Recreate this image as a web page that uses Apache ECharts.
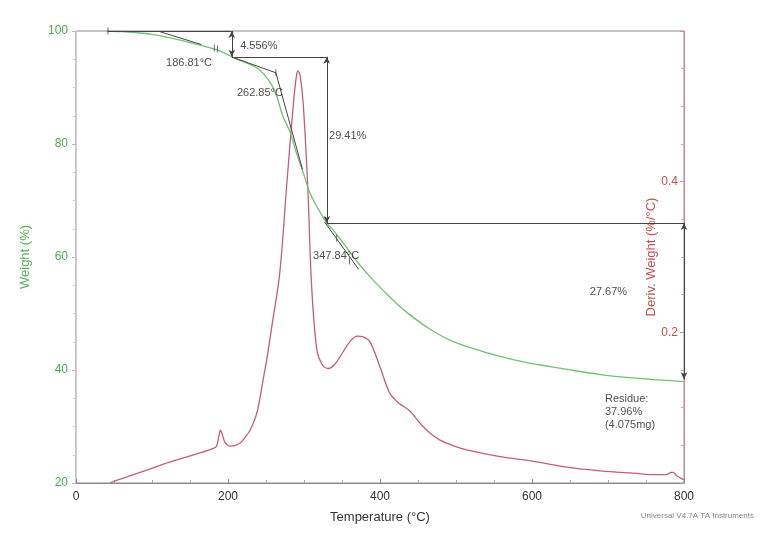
<!DOCTYPE html>
<html><head><meta charset="utf-8">
<script src="https://cdn.jsdelivr.net/npm/echarts@6/dist/echarts.min.js"></script>
<style>html,body{margin:0;padding:0;background:#fff}#c{width:766px;height:548px}</style>
</head><body><div id="c"></div>
<script>
// ---- TGA weight curve (Temperature °C, Weight %) ----
const weightT = [40,60,80,100,120,140,163,187,207,225,240,255,264,272,282,290,299,308,320,330,340,351,362,374,391,404,420,439,465,492,525,558,590,624,646,690,733,770,800];
const weightW = [100,99.9,99.7,99.4,98.9,98.3,97.5,96.6,95.3,94.3,93.3,91.0,88.5,85.0,82.0,78.4,74.9,71.3,68.2,66.0,64.5,62.6,60.6,58.5,55.9,54.1,52.0,49.8,47.3,45.3,43.7,42.4,41.4,40.6,40.1,39.2,38.6,38.2,37.96];
// ---- DTG derivative curve (Temperature °C, Deriv. Weight %/°C) ----
const derivT = [45,49,70,93,115,137,160,181,185,188,190,192,196,203,210,216,222,229,238,246,252,258,268,277,286,290,292,295,299,305,310,317,324,332,340,347,360,370,378,387,400,413,425,439,453,466,479,495,514,558,600,646,690,733,765,777,783,786,790,795,800];
const derivD = [0,0.002,0.009,0.017,0.025,0.032,0.039,0.046,0.049,0.062,0.070,0.066,0.054,0.049,0.050,0.053,0.060,0.070,0.093,0.136,0.17,0.21,0.278,0.392,0.503,0.54,0.547,0.54,0.503,0.392,0.262,0.176,0.157,0.152,0.157,0.167,0.187,0.195,0.194,0.187,0.154,0.119,0.106,0.096,0.079,0.066,0.057,0.050,0.044,0.035,0.029,0.021,0.016,0.013,0.011,0.011,0.014,0.014,0.010,0.007,0.004];
// ---- axes ----
const xTickLabels = [0,200,400,600,800];
const leftTickLabels = [20,40,60,80,100];
const rightTickLabels = [0.2,0.4];
// ---- step annotations (weight-loss steps) ----
const stepLevels = [100, 95.44, 66.03, 38.36];
const stepTemps = [42, 205, 330, 800];
// ---- tangent / onset segments [T1,W1,T2,W2] ----
const tangentSegs = [[110,99.9,165,97.6],[207,95.3,263,92.6],[263,92.6,298,75.5],[327,66.2,372,57.8]];
const tickMarks = [[42,100],[182,97.0],[186,96.8],[263,92.6],[343,63.3],[360,59.3]];
// ---- text annotations [T, W, text, align] ----
const notes = [
  [216, 97.35, '4.556%', 'left'],
  [179, 94.3, '186.81°C', 'right'],
  [242, 89.0, '262.85°C', 'center'],
  [333, 81.4, '29.41%', 'left'],
  [312, 60.2, '347.84°C', 'left'],
  [676, 53.8, '27.67%', 'left'],
  [696, 32.6, 'Residue:\n37.96%\n(4.075mg)', 'left']
];

const chart = echarts.init(document.getElementById('c'), null, {renderer:'canvas'});
const green = '#72c172', pink = '#c45d78', dark = '#444';
const FONT = 'Liberation Sans, Arial, sans-serif';

const hLines = [];
for (let i = 0; i < 3; i++) {
  hLines.push([{coord:[stepTemps[i], stepLevels[i]], symbol:'none'}, {coord:[stepTemps[i+1], stepLevels[i]], symbol:'none'}]);
}
const vArrows = [];
for (let i = 0; i < 3; i++) {
  vArrows.push([{coord:[stepTemps[i+1], stepLevels[i]]}, {coord:[stepTemps[i+1], stepLevels[i+1]]}]);
}
const tangents = tangentSegs.map(s => [{coord:[s[0],s[1]], symbol:'none'},{coord:[s[2],s[3]], symbol:'none'}]);

chart.setOption({
  animation: false,
  textStyle: {fontFamily: FONT},
  grid: {left: 76, right: 82, top: 31, bottom: 65, show: true, borderColor: '#8a8a8a', borderWidth: 1},
  xAxis: {
    type: 'value', min: 0, max: 800, interval: 200,
    name: 'Temperature (°C)', nameLocation: 'middle', nameGap: 28,
    nameTextStyle: {color: '#333', fontSize: 13, fontFamily: FONT},
    axisLine: {lineStyle: {color: '#8a8a8a'}},
    axisTick: {inside: true, length: 4, lineStyle: {color: '#8a8a8a'}},
    minorTick: {show: true, splitNumber: 4, length: 3, lineStyle: {color: '#aaa'}},
    splitLine: {show: false},
    axisLabel: {color: '#333', fontSize: 12, margin: 8, formatter: v => xTickLabels.includes(v) ? String(v) : ''}
  },
  yAxis: [{
    type: 'value', min: 20, max: 100, interval: 20, position: 'left',
    name: 'Weight (%)', nameLocation: 'middle', nameGap: 44,
    nameTextStyle: {color: '#55b055', fontSize: 13, fontFamily: FONT},
    axisLine: {show: true, lineStyle: {color: '#cfcfcf'}},
    axisTick: {show: true, length: 4, lineStyle: {color: '#bbb'}},
    minorTick: {show: true, splitNumber: 4, length: 3, lineStyle: {color: '#ccc'}},
    splitLine: {show: false},
    axisLabel: {color: '#4cab4c', fontSize: 12, margin: 8, formatter: v => leftTickLabels.includes(v) ? String(v) : ''}
  }, {
    type: 'value', min: 0, max: 0.6, interval: 0.2, position: 'right',
    name: 'Deriv. Weight (%/°C)', nameLocation: 'middle', nameGap: -39, nameRotate: 90,
    nameMoveOverlap: false,
    nameTextStyle: {color: '#c0504d', fontSize: 13, fontFamily: FONT},
    axisLine: {show: true, lineStyle: {color: '#d98a98'}},
    axisTick: {show: true, inside: true, length: 4, lineStyle: {color: '#d98a98'}},
    minorTick: {show: true, splitNumber: 4, length: 3, lineStyle: {color: '#e0a0ac'}},
    splitLine: {show: false},
    axisLabel: {inside: true, color: '#c0504d', fontSize: 12, margin: 6,
      formatter: v => rightTickLabels.some(r => Math.abs(r - v) < 1e-9) ? v.toFixed(1) : ''}
  }],
  series: [{
    name: 'Deriv', type: 'line', yAxisIndex: 1, showSymbol: false, smooth: 0.35,
    lineStyle: {color: pink, width: 1.3},
    data: derivT.map((t, i) => [t, derivD[i]]), z: 2
  }, {
    name: 'Weight', type: 'line', yAxisIndex: 0, showSymbol: false, smooth: 0.35,
    lineStyle: {color: green, width: 1.3},
    data: weightT.map((t, i) => [t, weightW[i]]), z: 3
  }, {
    name: 'steps', type: 'line', yAxisIndex: 0, data: [], z: 4,
    markLine: {
      silent: true, animation: false,
      label: {show: false},
      lineStyle: {color: dark, width: 1, type: 'solid'},
      symbol: ['arrow', 'arrow'], symbolSize: [5, 7],
      data: hLines.concat(vArrows).concat(tangents)
    }
  }, {
    name: 'ticks', type: 'scatter', yAxisIndex: 0, z: 5, silent: true,
    symbol: 'rect', symbolSize: [1, 7], itemStyle: {color: dark},
    data: tickMarks
  }, {
    name: 'notes', type: 'scatter', yAxisIndex: 0, symbolSize: 0, z: 6, silent: true,
    data: notes.map(n => ({value: [n[0], n[1]], label: {show: true, position: 'inside', formatter: n[2], align: n[3], verticalAlign: 'middle', color: '#222', fontSize: 11, lineHeight: 13, fontFamily: FONT}}))
  }],
  graphic: [{
    type: 'text', right: 12, top: 512,
    style: {text: 'Universal V4.7A TA Instruments', fill: '#888', fontSize: 8, fontFamily: FONT}
  }]
});
</script>
</body></html>
